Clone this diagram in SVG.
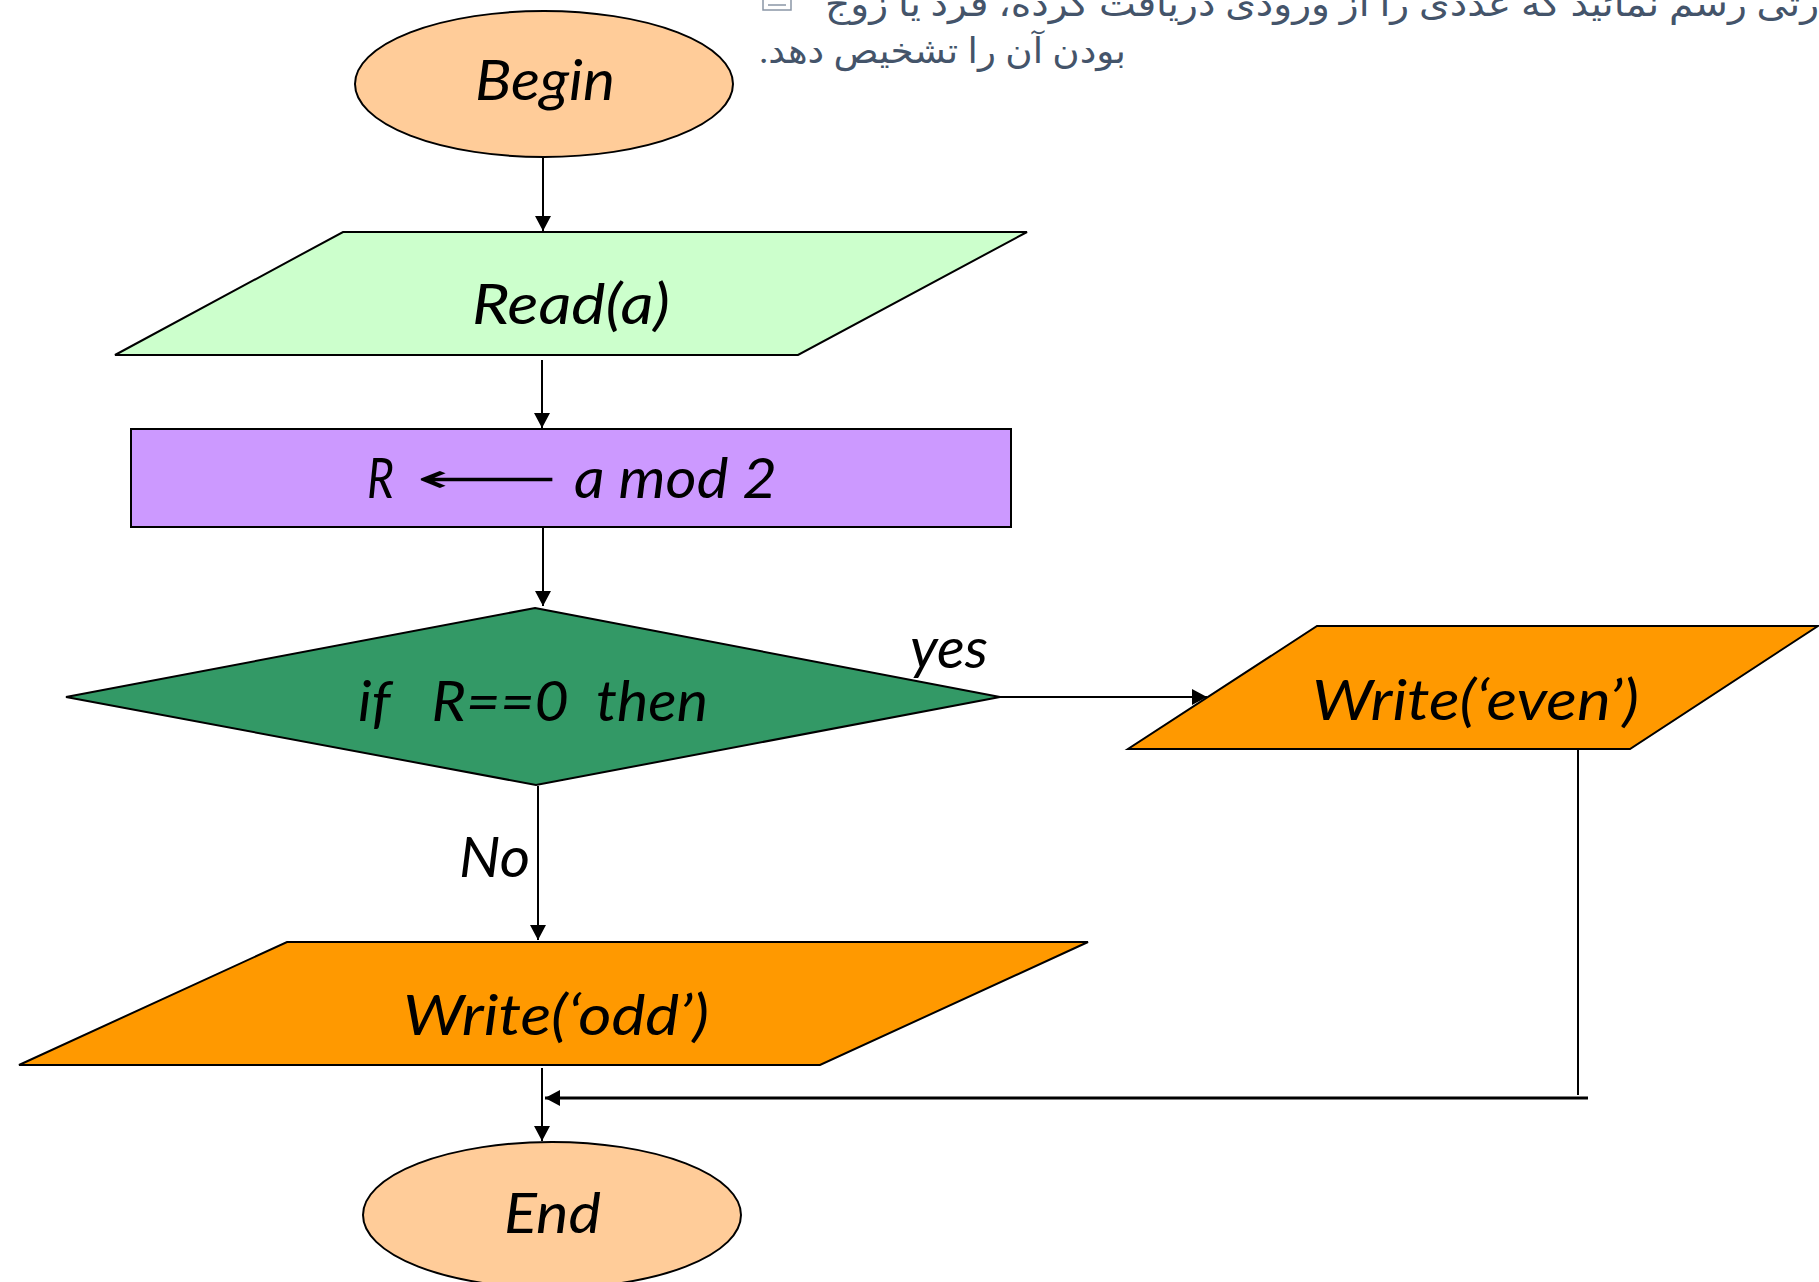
<svg xmlns="http://www.w3.org/2000/svg" width="1819" height="1282" viewBox="0 0 1819 1282">
<style>
.shape{stroke:#000;stroke-width:2}
.lbl{font-family:Lato,"Open Sans","Liberation Sans",sans-serif;font-style:italic;font-size:56px;fill:#000}
.conn{stroke:#000;stroke-width:2;fill:none}
.fa{font-family:"Liberation Serif","DejaVu Sans",serif;font-size:35px;fill:#44546A}
</style>
<defs>
<marker id="ah" markerUnits="userSpaceOnUse" markerWidth="16" markerHeight="16" refX="15" refY="8" orient="auto">
<path d="M0,0 L15,8 L0,16 z" fill="#000"/>
</marker>
</defs>
<rect width="1819" height="1282" fill="#fff"/>

<g id="title">
<text class="fa" direction="rtl" x="1830" y="16" text-anchor="start" textLength="1005" lengthAdjust="spacingAndGlyphs">ارتی رسم نمائید که عددی را از ورودی دریافت کرده، فرد یا زوج</text>
<text class="fa" direction="rtl" x="1126" y="63" text-anchor="start" textLength="367" lengthAdjust="spacingAndGlyphs">بودن آن را تشخیص دهد.</text>
<rect x="763" y="-2" width="28" height="12" fill="none" stroke="#8A96A6" stroke-width="1.5"/>
<line x1="768" y1="5" x2="786" y2="5" stroke="#8A96A6" stroke-width="1.5"/>
</g>

<g id="connectors">
<path class="conn" d="M543,158 V231" marker-end="url(#ah)"/>
<path class="conn" d="M542,360 V428" marker-end="url(#ah)"/>
<path class="conn" d="M543,528 V606" marker-end="url(#ah)"/>
<path class="conn" d="M1000,697 H1207" marker-end="url(#ah)"/>
<path class="conn" d="M538,786 V940" marker-end="url(#ah)"/>
<path class="conn" d="M542,1068 V1141" marker-end="url(#ah)"/>
<path class="conn" d="M1578,750 V1095"/>
<path class="conn" style="stroke-width:3" d="M1588,1098 H545" marker-end="url(#ah)"/>
</g>

<g id="begin">
<ellipse class="shape" cx="544" cy="84" rx="189" ry="73" fill="#FFCC99"/>
<text class="lbl" x="475" y="100" textLength="140" lengthAdjust="spacingAndGlyphs">Begin</text>
</g>

<g id="read">
<polygon class="shape" points="343,232 1027,232 798,355 115,355" fill="#CCFFCC"/>
<text class="lbl" x="472" y="324" textLength="198" lengthAdjust="spacingAndGlyphs">Read(a)</text>
</g>

<g id="assign">
<rect class="shape" x="131" y="429" width="880" height="98" fill="#CC99FF"/>
<text class="lbl" x="367" y="498" textLength="27" lengthAdjust="spacingAndGlyphs">R</text>
<text x="416" y="492" style="font-family:'DejaVu Sans',sans-serif;font-size:40px" textLength="142" lengthAdjust="spacingAndGlyphs">⟵</text>
<text class="lbl" x="574" y="498" textLength="203" lengthAdjust="spacingAndGlyphs">a mod 2</text>
</g>

<g id="decision">
<polygon class="shape" points="535,608 1000,697 536,785 66,697" fill="#339966"/>
<text class="lbl" x="358" y="721" xml:space="preserve" textLength="350" lengthAdjust="spacingAndGlyphs">if   R==0  then</text>
<text class="lbl" x="910" y="668" textLength="78" lengthAdjust="spacingAndGlyphs">yes</text>
<text class="lbl" x="459" y="877" textLength="71" lengthAdjust="spacingAndGlyphs">No</text>
</g>

<g id="write-even">
<polygon class="shape" points="1317,626 1818,626 1630,749 1128,749" fill="#FF9900"/>
<text class="lbl" x="1312" y="720" textLength="327" lengthAdjust="spacingAndGlyphs">Write(‘even’)</text>
</g>

<g id="write-odd">
<polygon class="shape" points="287,942 1088,942 820,1065 19,1065" fill="#FF9900"/>
<text class="lbl" x="403" y="1035" textLength="306" lengthAdjust="spacingAndGlyphs">Write(‘odd’)</text>
</g>

<g id="end">
<ellipse class="shape" cx="552" cy="1215" rx="189" ry="73" fill="#FFCC99"/>
<text class="lbl" x="504" y="1233" textLength="97" lengthAdjust="spacingAndGlyphs">End</text>
</g>
</svg>
